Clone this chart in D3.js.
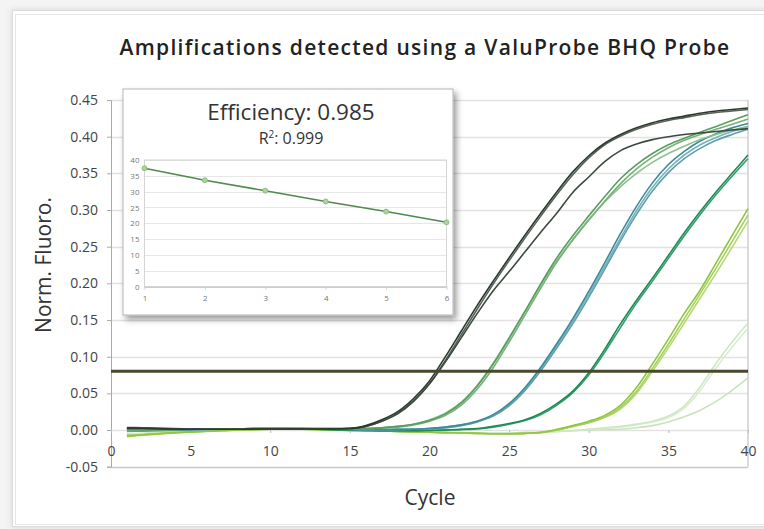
<!DOCTYPE html>
<html>
<head>
<meta charset="utf-8">
<script src="https://cdnjs.cloudflare.com/ajax/libs/d3/7.8.5/d3.min.js"></script>
<style>
  body { margin: 0; background: #f4f4f4; }
  svg { display: block; font-family: "Open Sans", sans-serif; }
</style>
</head>
<body>
<svg width="764" height="529"></svg>
<script>
// amplification curves, one value per cycle
var cycles = [1,2,3,4,5,6,7,8,9,10,11,12,13,14,15,16,17,18,19,20,21,22,23,24,25,26,27,28,29,30,31,32,33,34,35,36,37,38,39,40];

var dark1 = [0.003,0.0025,0.002,0.0015,0.001,0.001,0.001,0.001,0.0015,0.0015,0.0015,0.0015,0.0015,0.0015,0.002,0.006,0.014,0.025,0.043,0.067,0.100,0.135,0.170,0.203,0.235,0.266,0.296,0.325,0.352,0.374,0.391,0.403,0.412,0.419,0.424,0.428,0.432,0.435,0.437,0.439];
var dark2 = [0.002,0.002,0.0015,0.001,0.001,0.001,0.001,0.001,0.0015,0.0015,0.0015,0.0015,0.0015,0.0015,0.002,0.005,0.012,0.022,0.039,0.063,0.093,0.126,0.159,0.19,0.216,0.243,0.27,0.296,0.324,0.345,0.366,0.381,0.39,0.396,0.4,0.403,0.405,0.407,0.409,0.411];
var dark3 = [0.0035,0.003,0.0025,0.002,0.0015,0.001,0.001,0.001,0.0015,0.0015,0.0015,0.0015,0.0015,0.0015,0.002,0.005,0.012,0.023,0.04,0.063,0.095,0.13,0.165,0.199,0.231,0.262,0.292,0.321,0.348,0.371,0.389,0.401,0.41,0.417,0.422,0.426,0.43,0.433,0.435,0.437];

var green1 = [0.001,0.0005,0.0005,0.0005,0.001,0.001,0.001,0.001,0.0015,0.002,0.002,0.002,0.002,0.002,0.002,0.002,0.003,0.005,0.008,0.013,0.022,0.037,0.06,0.09,0.125,0.162,0.2,0.235,0.265,0.292,0.318,0.343,0.362,0.377,0.389,0.398,0.406,0.414,0.422,0.43];
var green2 = [0,0,0,0.0005,0.001,0.001,0.001,0.001,0.0015,0.002,0.002,0.002,0.002,0.002,0.002,0.002,0.003,0.004,0.007,0.012,0.02,0.034,0.056,0.085,0.12,0.157,0.194,0.229,0.259,0.286,0.312,0.336,0.356,0.372,0.385,0.395,0.403,0.41,0.417,0.424];
var green3 = [0.002,0.0015,0.001,0.001,0.001,0.001,0.001,0.001,0.0015,0.002,0.002,0.002,0.002,0.002,0.002,0.002,0.003,0.005,0.008,0.014,0.023,0.038,0.061,0.091,0.126,0.162,0.198,0.231,0.26,0.287,0.311,0.332,0.35,0.365,0.377,0.387,0.396,0.403,0.409,0.414];

var teal1 = [-0.001,-0.001,-0.0005,0,0.0005,0.001,0.001,0.0015,0.002,0.002,0.002,0.002,0.0015,0.001,0.001,0.0005,0.0005,0.001,0.001,0.002,0.004,0.007,0.012,0.021,0.036,0.058,0.086,0.118,0.152,0.189,0.228,0.268,0.305,0.337,0.362,0.38,0.394,0.404,0.412,0.418];
var teal2 = [0,0,0,0.0005,0.0005,0.001,0.001,0.0015,0.002,0.002,0.002,0.002,0.0015,0.001,0.001,0.0005,0.0005,0.0005,0.001,0.002,0.003,0.006,0.011,0.019,0.033,0.054,0.081,0.112,0.145,0.181,0.219,0.258,0.294,0.326,0.351,0.37,0.384,0.395,0.403,0.41];
var teal3 = [-0.002,-0.0015,-0.001,-0.0005,0,0.0005,0.001,0.0015,0.002,0.002,0.002,0.002,0.0015,0.001,0.001,0.0005,0.0005,0.001,0.001,0.002,0.004,0.007,0.012,0.02,0.035,0.056,0.084,0.115,0.149,0.185,0.223,0.262,0.299,0.331,0.356,0.375,0.389,0.399,0.407,0.414];

var mid1 = [0.002,0.0015,0.001,0.001,0.001,0.001,0.001,0.0015,0.002,0.002,0.002,0.0015,0.001,0.0005,0,-0.0005,-0.001,-0.001,-0.001,-0.0005,0,0.001,0.002,0.005,0.009,0.014,0.023,0.036,0.053,0.078,0.11,0.145,0.177,0.207,0.238,0.269,0.298,0.325,0.35,0.375];
var mid2 = [0.003,0.0025,0.002,0.0015,0.001,0.001,0.001,0.0015,0.002,0.002,0.002,0.0015,0.001,0.0005,0,-0.0005,-0.001,-0.001,-0.001,-0.0005,0,0.0005,0.0015,0.004,0.008,0.013,0.021,0.034,0.051,0.075,0.106,0.14,0.173,0.203,0.234,0.265,0.294,0.321,0.346,0.37];

var lime1 = [-0.008,-0.0065,-0.005,-0.0035,-0.0025,-0.0015,-0.0005,0,0.0005,0.001,0.001,0.001,0.0005,0,-0.0005,-0.001,-0.0015,-0.002,-0.0025,-0.003,-0.0035,-0.004,-0.0045,-0.005,-0.005,-0.0045,-0.003,0.001,0.006,0.012,0.02,0.034,0.058,0.09,0.124,0.159,0.191,0.228,0.265,0.302];
var lime2 = [-0.009,-0.007,-0.0055,-0.004,-0.003,-0.002,-0.001,0,0.0005,0.001,0.001,0.001,0.0005,0,-0.0005,-0.001,-0.0015,-0.002,-0.0025,-0.003,-0.0035,-0.004,-0.0045,-0.005,-0.005,-0.0045,-0.0035,0,0.005,0.01,0.018,0.031,0.053,0.084,0.117,0.152,0.186,0.221,0.257,0.293];
var lime3 = [-0.007,-0.006,-0.0045,-0.0035,-0.0025,-0.0015,-0.0005,0,0.0005,0.001,0.001,0.001,0.0005,0,-0.0005,-0.001,-0.0015,-0.002,-0.0025,-0.003,-0.0035,-0.004,-0.0045,-0.005,-0.005,-0.0045,-0.0035,0,0.005,0.01,0.017,0.029,0.05,0.08,0.112,0.146,0.18,0.214,0.249,0.285];

var pale1 = [-0.006,-0.005,-0.004,-0.003,-0.002,-0.001,-0.0005,0,0.0005,0.001,0.001,0.001,0.0005,0,-0.0005,-0.001,-0.0015,-0.002,-0.0025,-0.003,-0.0035,-0.004,-0.004,-0.004,-0.004,-0.0035,-0.003,-0.002,-0.001,0.001,0.003,0.005,0.008,0.012,0.019,0.033,0.059,0.091,0.12,0.146];
var pale2 = [-0.006,-0.005,-0.004,-0.003,-0.002,-0.001,-0.0005,0,0.0005,0.001,0.001,0.001,0.0005,0,-0.0005,-0.001,-0.0015,-0.002,-0.0025,-0.003,-0.0035,-0.004,-0.004,-0.004,-0.004,-0.0035,-0.003,-0.002,-0.001,0.001,0.002,0.004,0.007,0.011,0.017,0.03,0.054,0.085,0.113,0.139];
var pale3 = [-0.005,-0.0045,-0.0035,-0.0025,-0.0015,-0.001,-0.0005,0,0.0005,0.001,0.001,0.001,0.0005,0,-0.0005,-0.001,-0.0015,-0.002,-0.0025,-0.003,-0.0035,-0.004,-0.004,-0.004,-0.004,-0.0035,-0.003,-0.002,-0.001,0,0.0005,0.001,0.003,0.006,0.011,0.018,0.027,0.039,0.054,0.071];

// drawn back to front
var series = [
  {values: pale3, color: "#c9e3bd"},
  {values: pale2, color: "#d9edcf"},
  {values: pale1, color: "#cfe7c3"},
  {values: lime3, color: "#b3da74"},
  {values: lime2, color: "#a2d25a"},
  {values: lime1, color: "#8ec63f"},
  {values: mid2, color: "#33a06a"},
  {values: mid1, color: "#1f8a56"},
  {values: teal3, color: "#78b2bd"},
  {values: teal2, color: "#5c9fad"},
  {values: teal1, color: "#3d8a99"},
  {values: green3, color: "#8cc08c"},
  {values: green2, color: "#74b276"},
  {values: green1, color: "#5a9c62"},
  {values: dark3, color: "#56625a"},
  {values: dark2, color: "#3c4a3e"},
  {values: dark1, color: "#2c3a2e"}
];
var threshold = 0.08;
var yTicks = [-0.05,0,0.05,0.1,0.15,0.2,0.25,0.3,0.35,0.4,0.45];
var xTicks = [0,5,10,15,20,25,30,35,40];

// standard curve inset
var dilution = [1,2,3,4,5,6];
var ctValues = [37.4,33.6,30.3,26.9,23.7,20.3];
var insetYTicks = [0,5,10,15,20,25,30,35,40];

var svg = d3.select("svg");
var defs = svg.append("defs");
var sh = defs.append("filter").attr("id", "shadow")
    .attr("x", "-10%").attr("y", "-10%").attr("width", "130%").attr("height", "130%");
sh.append("feDropShadow").attr("dx", 3).attr("dy", 4).attr("stdDeviation", 3)
    .attr("flood-color", "#000").attr("flood-opacity", 0.4);
var sh2 = defs.append("filter").attr("id", "cardShadow")
    .attr("x", "-5%").attr("y", "-5%").attr("width", "110%").attr("height", "110%");
sh2.append("feDropShadow").attr("dx", 0).attr("dy", 0).attr("stdDeviation", 3)
    .attr("flood-color", "#000").attr("flood-opacity", 0.12);

// card
svg.append("rect").attr("x", 12.5).attr("y", 10.5).attr("width", 760).attr("height", 516)
    .attr("fill", "#fff").attr("stroke", "#dcdcdc").attr("filter", "url(#cardShadow)");
svg.append("rect").attr("x", 15.5).attr("y", 14.5).attr("width", 760).attr("height", 510)
    .attr("fill", "none").attr("stroke", "#e6e6e6");

svg.append("text")
    .attr("x", 425).attr("y", 55)
    .attr("text-anchor", "middle")
    .attr("font-size", 21)
    .attr("font-weight", 600)
    .attr("letter-spacing", 1.3)
    .attr("fill", "#222")
    .text("Amplifications detected using a ValuProbe BHQ Probe");

var x = d3.scaleLinear().domain([0, 40]).range([111, 748]);
var y = d3.scaleLinear().domain([-0.05, 0.45]).range([466.7, 100]);

// grid
svg.append("g")
  .selectAll("line")
  .data(yTicks)
  .enter().append("line")
    .attr("x1", x(0)).attr("x2", x(40))
    .attr("y1", function(d) { return Math.round(y(d)) + 0.5; })
    .attr("y2", function(d) { return Math.round(y(d)) + 0.5; })
    .attr("stroke", function(d) { return d === -0.05 ? "#c8c8c8" : "#e2e2e2"; })
    .attr("stroke-width", 1.5);
svg.append("line")
    .attr("x1", x(40)).attr("x2", x(40)).attr("y1", y(0.45)).attr("y2", y(-0.05))
    .attr("stroke", "#cfcfcf").attr("stroke-width", 1.5);

var yAxis = svg.append("g")
    .attr("transform", "translate(" + x(0) + ",0)")
    .call(d3.axisLeft(y).tickValues(yTicks).tickSize(4).tickPadding(9)
      .tickFormat(function(d) { return d3.format(".2f")(d).replace("−", "-"); }));
yAxis.select(".domain").attr("stroke", "#aaa");
yAxis.selectAll(".tick line").attr("stroke", "#aaa");
yAxis.selectAll("text").attr("font-size", 14).attr("fill", "#444").attr("font-family", "Open Sans");

var xAxis = svg.append("g")
    .attr("transform", "translate(0," + y(0) + ")")
    .call(d3.axisBottom(x).tickValues(xTicks).tickSize(3).tickPadding(13));
xAxis.select(".domain").remove();
xAxis.selectAll(".tick line").attr("stroke", "#bbb");
xAxis.selectAll("text").attr("font-size", 14).attr("fill", "#444").attr("font-family", "Open Sans");

// curves
var line = d3.line()
    .x(function(d, i) { return x(cycles[i]); })
    .y(function(d) { return y(d); })
    .curve(d3.curveMonotoneX);

svg.append("g")
  .selectAll("path")
  .data(series)
  .enter().append("path")
    .attr("d", function(d) { return line(d.values); })
    .attr("fill", "none")
    .attr("stroke", function(d) { return d.color; })
    .attr("stroke-width", 1.6);

svg.append("line")
    .attr("x1", x(0)).attr("x2", x(40))
    .attr("y1", y(threshold)).attr("y2", y(threshold))
    .attr("stroke", "#48482c").attr("stroke-width", 3);

svg.append("text")
    .attr("transform", "translate(51,265) rotate(-90)")
    .attr("text-anchor", "middle")
    .attr("font-size", 21)
    .attr("fill", "#333")
    .text("Norm. Fluoro.");
svg.append("text")
    .attr("x", 430).attr("y", 505)
    .attr("text-anchor", "middle")
    .attr("font-size", 21)
    .attr("fill", "#333")
    .text("Cycle");

// inset
var inset = svg.append("g");
inset.append("rect")
    .attr("x", 123).attr("y", 89).attr("width", 330).attr("height", 226)
    .attr("fill", "#fff").attr("stroke", "#b5b5b5")
    .attr("filter", "url(#shadow)");
inset.append("text")
    .attr("x", 291).attr("y", 120)
    .attr("text-anchor", "middle")
    .attr("font-size", 22.5)
    .attr("fill", "#333")
    .text("Efficiency: 0.985");
var r2 = inset.append("text")
    .attr("x", 291).attr("y", 144)
    .attr("text-anchor", "middle")
    .attr("font-size", 16)
    .attr("fill", "#333");
r2.append("tspan").text("R");
r2.append("tspan").attr("dy", -6).attr("font-size", 10).text("2");
r2.append("tspan").attr("dy", 6).text(": 0.999");

var ix = d3.scaleLinear().domain([1, 6]).range([144.5, 446.5]);
var iy = d3.scaleLinear().domain([0, 40]).range([286.5, 160]);

inset.append("g")
  .selectAll("line")
  .data(insetYTicks)
  .enter().append("line")
    .attr("x1", ix(1)).attr("x2", ix(6))
    .attr("y1", function(d) { return Math.round(iy(d)) + 0.5; })
    .attr("y2", function(d) { return Math.round(iy(d)) + 0.5; })
    .attr("stroke", function(d) { return d === 0 ? "#ccc" : "#e6e6e6"; });
inset.append("rect")
    .attr("x", ix(1)).attr("y", iy(40)).attr("width", ix(6) - ix(1)).attr("height", iy(0) - iy(40))
    .attr("fill", "none").attr("stroke", "#d4d4d4");

var iyAxis = inset.append("g")
    .attr("transform", "translate(" + ix(1) + ",0)")
    .call(d3.axisLeft(iy).tickValues(insetYTicks).tickSize(0).tickPadding(5));
iyAxis.select(".domain").remove();
iyAxis.selectAll("text").attr("font-size", 8).attr("fill", "#777").attr("font-family", "Open Sans");

var ixAxis = inset.append("g")
    .attr("transform", "translate(0," + iy(0) + ")")
    .call(d3.axisBottom(ix).tickValues(dilution).tickSize(3).tickPadding(6).tickFormat(d3.format("d")));
ixAxis.select(".domain").remove();
ixAxis.selectAll(".tick line").attr("stroke", "#ccc");
ixAxis.selectAll("text").attr("font-size", 8).attr("fill", "#777").attr("font-family", "Open Sans");

var iline = d3.line()
    .x(function(d, i) { return ix(dilution[i]); })
    .y(function(d) { return iy(d); });
inset.append("path")
    .attr("d", iline(ctValues))
    .attr("fill", "none")
    .attr("stroke", "#4f8a4c")
    .attr("stroke-width", 1.6);
inset.append("g")
  .selectAll("circle")
  .data(ctValues)
  .enter().append("circle")
    .attr("cx", function(d, i) { return ix(dilution[i]); })
    .attr("cy", function(d) { return iy(d); })
    .attr("r", 2.5)
    .attr("fill", "#a9d59a")
    .attr("stroke", "#7fb872")
    .attr("stroke-width", 0.8);
</script>
</body>
</html>
